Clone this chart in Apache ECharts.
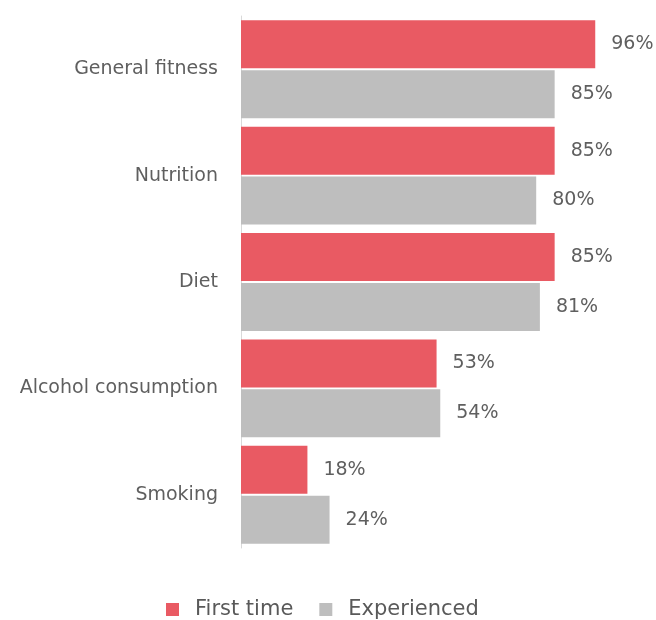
<!DOCTYPE html>
<html>
<head>
<meta charset="utf-8">
<script src="https://cdn.jsdelivr.net/npm/echarts@6/dist/echarts.min.js"></script>
<style>
  html, body { margin: 0; padding: 0; background: #fff; }
  #chart { width: 656px; height: 620px; }
</style>
</head>
<body>
<div id="chart"></div>
<script>
var categories = ['General fitness', 'Nutrition', 'Diet', 'Alcohol consumption', 'Smoking'];
var firstTime = [96, 85, 85, 53, 18];
var experienced = [85, 80, 81, 54, 24];

var chart = echarts.init(document.getElementById('chart'));

var labelStyle = {
    show: true,
    position: 'right',
    distance: 16,
    color: '#5f5f5f',
    fontSize: 19,
    fontFamily: 'DejaVu Sans',
    formatter: '{c}%'
};

var option = {
    backgroundColor: '#fff',
    animation: false,
    grid: {
        left: 241,
        right: 46,
        top: 16,
        bottom: 72
    },
    legend: {
        top: 594,
        left: 161,
        itemWidth: 13,
        itemHeight: 13,
        itemGap: 26,
        icon: 'rect',
        textStyle: {
            color: '#595959',
            fontSize: 21,
            fontFamily: 'DejaVu Sans',
            padding: [0, 0, 0, 11]
        },
        data: ['First time', 'Experienced']
    },
    xAxis: {
        type: 'value',
        min: 0,
        max: 100,
        show: false
    },
    yAxis: {
        type: 'category',
        inverse: true,
        data: categories,
        axisLine: { show: true, lineStyle: { color: '#d9d9d9', width: 1 } },
        axisTick: { show: false },
        axisLabel: {
            color: '#5f5f5f',
            fontSize: 19,
            fontFamily: 'DejaVu Sans',
            margin: 23
        }
    },
    series: [{
        name: 'First time',
        type: 'bar',
        data: firstTime,
        barCategoryGap: '8%',
        barGap: '4%',
        itemStyle: { color: '#E95A63' },
        label: labelStyle
    }, {
        name: 'Experienced',
        type: 'bar',
        data: experienced,
        barCategoryGap: '8%',
        barGap: '4%',
        itemStyle: { color: '#BEBEBE' },
        label: labelStyle
    }]
};

chart.setOption(option);
</script>
</body>
</html>
